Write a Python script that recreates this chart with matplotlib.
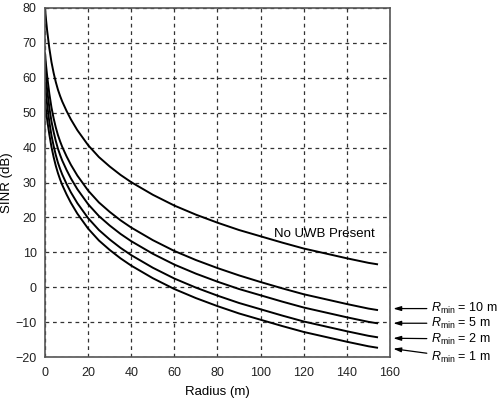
import matplotlib
matplotlib.use("Agg")
import matplotlib.pyplot as plt

plt.rcParams["font.family"] = ["Liberation Sans", "DejaVu Sans"]
plt.rcParams["mathtext.fontset"] = "custom"
plt.rcParams["mathtext.it"] = "Liberation Sans:italic"
plt.rcParams["mathtext.rm"] = "Liberation Sans"

# Radius (m) where the curves were read
radius = [0, 0.5, 1, 2, 3, 4, 5, 6, 7, 8, 10, 12, 15, 20, 25, 30, 35, 40,
          50, 60, 70, 80, 90, 100, 110, 120, 130, 140, 150, 154]

# SINR (dB)
no_uwb = [80, 76.5, 73.5, 68.5, 64.5, 61.4, 58.8, 56.6, 54.8, 53.2, 50.5,
          48.1, 45.0, 40.7, 37.3, 34.6, 32.2, 30.1, 26.5, 23.4, 20.8, 18.5,
          16.4, 14.6, 12.8, 11.1, 9.7, 8.3, 7.0, 6.6]
rmin_10 = [67, 63.5, 60.5, 55.5, 51.5, 48.4, 45.8, 43.6, 41.8, 40.2, 37.5,
           35.1, 32.0, 27.7, 24.3, 21.6, 19.2, 17.1, 13.5, 10.4, 7.8, 5.5,
           3.4, 1.5, -0.3, -2.0, -3.4, -4.8, -6.1, -6.5]
rmin_5 = [63, 59.5, 56.5, 51.5, 47.5, 44.5, 41.9, 39.7, 37.9, 36.3, 33.6,
          31.2, 28.1, 23.8, 20.4, 17.7, 15.3, 13.2, 9.6, 6.5, 3.9, 1.6, -0.5,
          -2.3, -4.1, -5.8, -7.2, -8.6, -9.9, -10.3]
rmin_2 = [58.5, 55.2, 52.3, 47.4, 43.5, 40.5, 37.9, 35.7, 33.9, 32.3, 29.6,
          27.2, 24.1, 19.8, 16.4, 13.7, 11.3, 9.2, 5.6, 2.5, -0.1, -2.4, -4.5,
          -6.3, -8.1, -9.8, -11.2, -12.6, -13.9, -14.3]
rmin_1 = [53, 50.5, 48, 43.8, 40.2, 37.3, 34.8, 32.7, 30.9, 29.3, 26.6, 24.2,
          21.1, 16.8, 13.4, 10.7, 8.3, 6.2, 2.6, -0.5, -3.1, -5.4, -7.5, -9.3,
          -11.1, -12.8, -14.2, -15.6, -16.9, -17.3]

# labels on the right: (text, arrow tip y, text y)
labels = [(r"$R_{\mathrm{min}}$ = 10 m", -6.1, -6.1),
          (r"$R_{\mathrm{min}}$ = 5 m", -10.3, -10.3),
          (r"$R_{\mathrm{min}}$ = 2 m", -14.6, -14.8),
          (r"$R_{\mathrm{min}}$ = 1 m", -17.6, -20.2)]

fig = plt.figure(figsize=(5, 3.99), dpi=100)
ax = fig.add_axes([0.09, 0.105, 0.69, 0.875])

for vals in [no_uwb, rmin_10, rmin_5, rmin_2, rmin_1]:
    ax.plot(radius, vals, color="black", lw=1.4)

ax.set_xlim(0, 160)
ax.set_ylim(-20, 80)
ax.set_xticks(range(0, 161, 20))
ax.set_yticks(range(-20, 81, 10))
ax.grid(True, color="#333333", linestyle=(0, (3, 3)), lw=0.9)
ax.tick_params(length=0, labelsize=9, colors="#222222")
ax.tick_params(axis="x", pad=7)
ax.tick_params(axis="y", pad=6)
for s in ax.spines.values():
    s.set_color("#555555")
    s.set_linewidth(1.2)

ax.set_xlabel("Radius (m)", fontsize=9.5, labelpad=5)
ax.set_ylabel("SINR (dB)", fontsize=9.5, labelpad=2)

ax.text(106, 15.2, "No UWB Present", fontsize=9.5, va="center", ha="left")

for txt, tip_y, txt_y in labels:
    ax.annotate(txt, xy=(161.5, tip_y), xytext=(179, txt_y),
                xycoords="data", textcoords="data", fontsize=9,
                va="center", ha="left", annotation_clip=False,
                arrowprops=dict(arrowstyle="-|>,head_length=0.5,head_width=0.15",
                                color="black", lw=0.9, shrinkA=1, shrinkB=0))

fig.savefig("out.png", dpi=100)
